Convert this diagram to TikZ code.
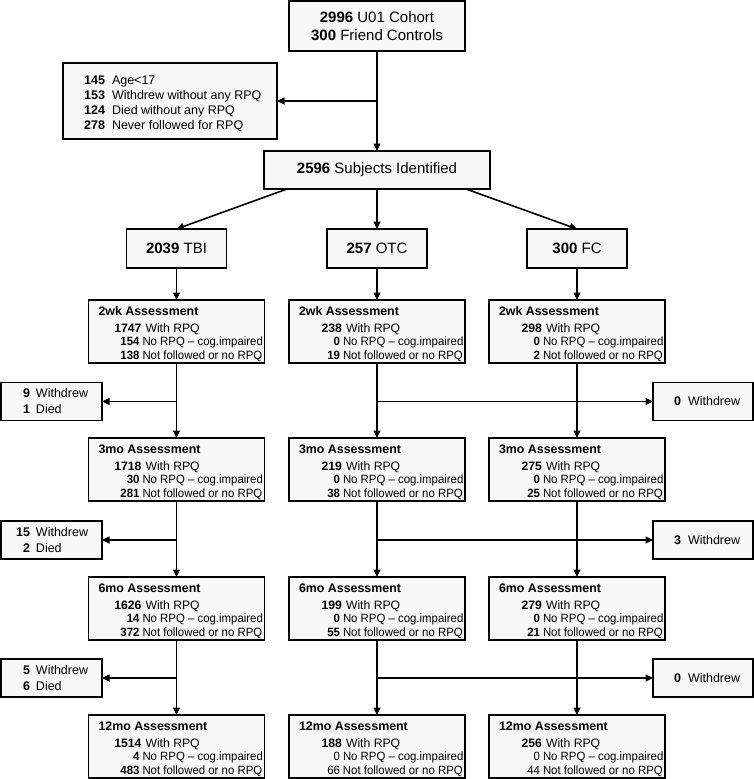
\documentclass[tikz,border=0pt]{standalone}
\usepackage{fontspec}
\setmainfont{Liberation Sans}
\newfontfamily\narrowsans[FakeStretch=0.95]{Liberation Sans}
\usetikzlibrary{arrows.meta}
\definecolor{boxgray}{RGB}{248,248,248}
\newcommand{\bigsize}{\fontsize{15}{18}\selectfont}
\newcommand{\midsize}{\fontsize{12.5}{15}\selectfont}
\newcommand{\titlesize}{\fontsize{12.4}{14}\selectfont\bfseries}
\newcommand{\rowsize}{\fontsize{12.2}{14}\selectfont}
\newcommand{\narrowsize}{\narrowsans\fontsize{12}{14}\selectfont}
\tikzset{
  boxframe/.style={draw=black, line width=1.5pt, fill=boxgray, inner sep=0pt, outer sep=0pt},
  lbl/.style={inner sep=0pt, outer sep=0pt},
  conn/.style={line width=1.6pt, -{Triangle[length=7.5pt,width=7pt]}},
}
% #1 name, #2 centre x, #3 top y, #4 title, #5 n1, #6 n3, #7 n4
\newcommand{\assessbox}[7]{%
  \node[boxframe, minimum width=176pt, minimum height=63pt] (#1) at (#2,-#3-31.5) {};
  \node[lbl, anchor=base west, font=\titlesize] (#1-t) at ([xshift=10pt,yshift=-15pt]#1.north west) {#4};
  \node[lbl, anchor=base west, font=\rowsize] (#1-a) at ([xshift=13pt,yshift=-32pt]#1.north west) {\makebox[40pt][r]{\bfseries #5}\hspace{4pt}With RPQ};
  \node[lbl, anchor=base west, font=\narrowsize] (#1-b) at ([xshift=11pt,yshift=-45.5pt]#1.north west) {\makebox[40pt][r]{#6}\hspace{3pt}No RPQ – cog.impaired};
  \node[lbl, anchor=base west, font=\narrowsize] (#1-c) at ([xshift=11pt,yshift=-59pt]#1.north west) {\makebox[40pt][r]{#7}\hspace{3pt}Not followed or no RPQ};
}
% #1 name, #2 centre y, #3 n1, #4 n2
\newcommand{\leftbox}[4]{%
  \node[boxframe, minimum width=101pt, minimum height=38pt] (#1) at (51.5,-#2) {};
  \node[lbl, anchor=base west, font=\midsize] (#1-a) at ([xshift=4pt,yshift=4pt]#1.west) {\makebox[25pt][r]{\bfseries #3}\hspace{6pt}Withdrew};
  \node[lbl, anchor=base west, font=\midsize] (#1-b) at ([xshift=4pt,yshift=-12pt]#1.west) {\makebox[25pt][r]{\bfseries #4}\hspace{6pt}Died};
}
\newcommand{\rightbox}[3]{%
  \node[boxframe, minimum width=100pt, minimum height=38pt] (#1) at (703,-#2) {};
  \node[lbl, anchor=base west, font=\midsize] (#1-a) at ([xshift=3pt,yshift=-4pt]#1.west) {\makebox[25pt][r]{\bfseries #3}\hspace{7pt}Withdrew};
}
\begin{document}
\begin{tikzpicture}[x=1pt,y=1pt]
\useasboundingbox (0,0) rectangle (754,-779);

% top boxes
\node[boxframe, minimum width=176pt, minimum height=50pt, align=center, font=\bigsize] (cohort) at (377,-26) {\textbf{2996} U01 Cohort\\\textbf{300} Friend Controls};
\node[boxframe, minimum width=214pt, minimum height=76pt] (excl) at (170,-101) {};
\node[lbl, anchor=base west, font=\midsize] (excl-a) at ([xshift=20pt,yshift=-21pt]excl.north west) {\makebox[22pt][r]{\bfseries 145}\hspace{7pt}Age<17};
\node[lbl, anchor=base west, font=\midsize] (excl-b) at ([xshift=20pt,yshift=-36pt]excl.north west) {\makebox[22pt][r]{\bfseries 153}\hspace{7pt}Withdrew without any RPQ};
\node[lbl, anchor=base west, font=\midsize] (excl-c) at ([xshift=20pt,yshift=-51pt]excl.north west) {\makebox[22pt][r]{\bfseries 124}\hspace{7pt}Died without any RPQ};
\node[lbl, anchor=base west, font=\midsize] (excl-d) at ([xshift=20pt,yshift=-66pt]excl.north west) {\makebox[22pt][r]{\bfseries 278}\hspace{7pt}Never followed for RPQ};
\node[boxframe, minimum width=226pt, minimum height=38pt, font=\bigsize] (subj) at (377,-170) {\textbf{2596} Subjects Identified};

\node[boxframe, minimum width=100pt, minimum height=39pt, font=\bigsize] (tbi) at (176.5,-248.5) {\textbf{2039} TBI};
\node[boxframe, minimum width=100pt, minimum height=39pt, font=\bigsize] (otc) at (377,-248.5) {\textbf{257} OTC};
\node[boxframe, minimum width=100pt, minimum height=39pt, font=\bigsize] (fc) at (577,-248.5) {\textbf{300} FC};

% assessment boxes
\assessbox{t2}{176.5}{300}{2wk Assessment}{1747}{\textbf{154}}{\textbf{138}}
\assessbox{o2}{377}{300}{2wk Assessment}{238}{\textbf{0}}{\textbf{19}}
\assessbox{f2}{577}{300}{2wk Assessment}{298}{\textbf{0}}{\textbf{2}}
\assessbox{t3}{176.5}{438}{3mo Assessment}{1718}{\textbf{30}}{\textbf{281}}
\assessbox{o3}{377}{438}{3mo Assessment}{219}{\textbf{0}}{\textbf{38}}
\assessbox{f3}{577}{438}{3mo Assessment}{275}{\textbf{0}}{\textbf{25}}
\assessbox{t6}{176.5}{577}{6mo Assessment}{1626}{\textbf{14}}{\textbf{372}}
\assessbox{o6}{377}{577}{6mo Assessment}{199}{\textbf{0}}{\textbf{55}}
\assessbox{f6}{577}{577}{6mo Assessment}{279}{\textbf{0}}{\textbf{21}}
\assessbox{t12}{176.5}{715}{12mo Assessment}{1514}{\textbf{4}}{\textbf{483}}
\assessbox{o12}{377}{715}{12mo Assessment}{188}{0}{66}
\assessbox{f12}{577}{715}{12mo Assessment}{256}{0}{44}

% side boxes
\leftbox{l1}{401.5}{9}{1}
\leftbox{l2}{540}{15}{2}
\leftbox{l3}{678}{5}{6}
\rightbox{r1}{401.5}{0}
\rightbox{r2}{540}{3}
\rightbox{r3}{678}{0}

% connectors
\draw[conn] (cohort.south) -- (subj.north);
\draw[conn] (cohort.south |- excl.east) -- (excl.east);
\draw[conn] ([xshift=23pt]subj.south west) -- (tbi.north);
\draw[conn] (subj.south) -- (otc.north);
\draw[conn] ([xshift=-24pt]subj.south east) -- (fc.north);
\draw[conn] (tbi.south) -- (t2.north);
\draw[conn] (otc.south) -- (o2.north);
\draw[conn] (fc.south) -- (f2.north);

\draw[conn] (t2.south) -- (t3.north);
\draw[conn] (t3.south) -- (t6.north);
\draw[conn] (t6.south) -- (t12.north);
\draw[conn] (o2.south) -- (o3.north);
\draw[conn] (o3.south) -- (o6.north);
\draw[conn] (o6.south) -- (o12.north);
\draw[conn] (f2.south) -- (f3.north);
\draw[conn] (f3.south) -- (f6.north);
\draw[conn] (f6.south) -- (f12.north);

\draw[conn] (t2.south |- l1.east) -- (l1.east);
\draw[conn] (t3.south |- l2.east) -- (l2.east);
\draw[conn] (t6.south |- l3.east) -- (l3.east);
\draw[conn] (o2.south |- r1.west) -- (r1.west);
\draw[conn] (o3.south |- r2.west) -- (r2.west);
\draw[conn] (o6.south |- r3.west) -- (r3.west);
\end{tikzpicture}
\end{document}
